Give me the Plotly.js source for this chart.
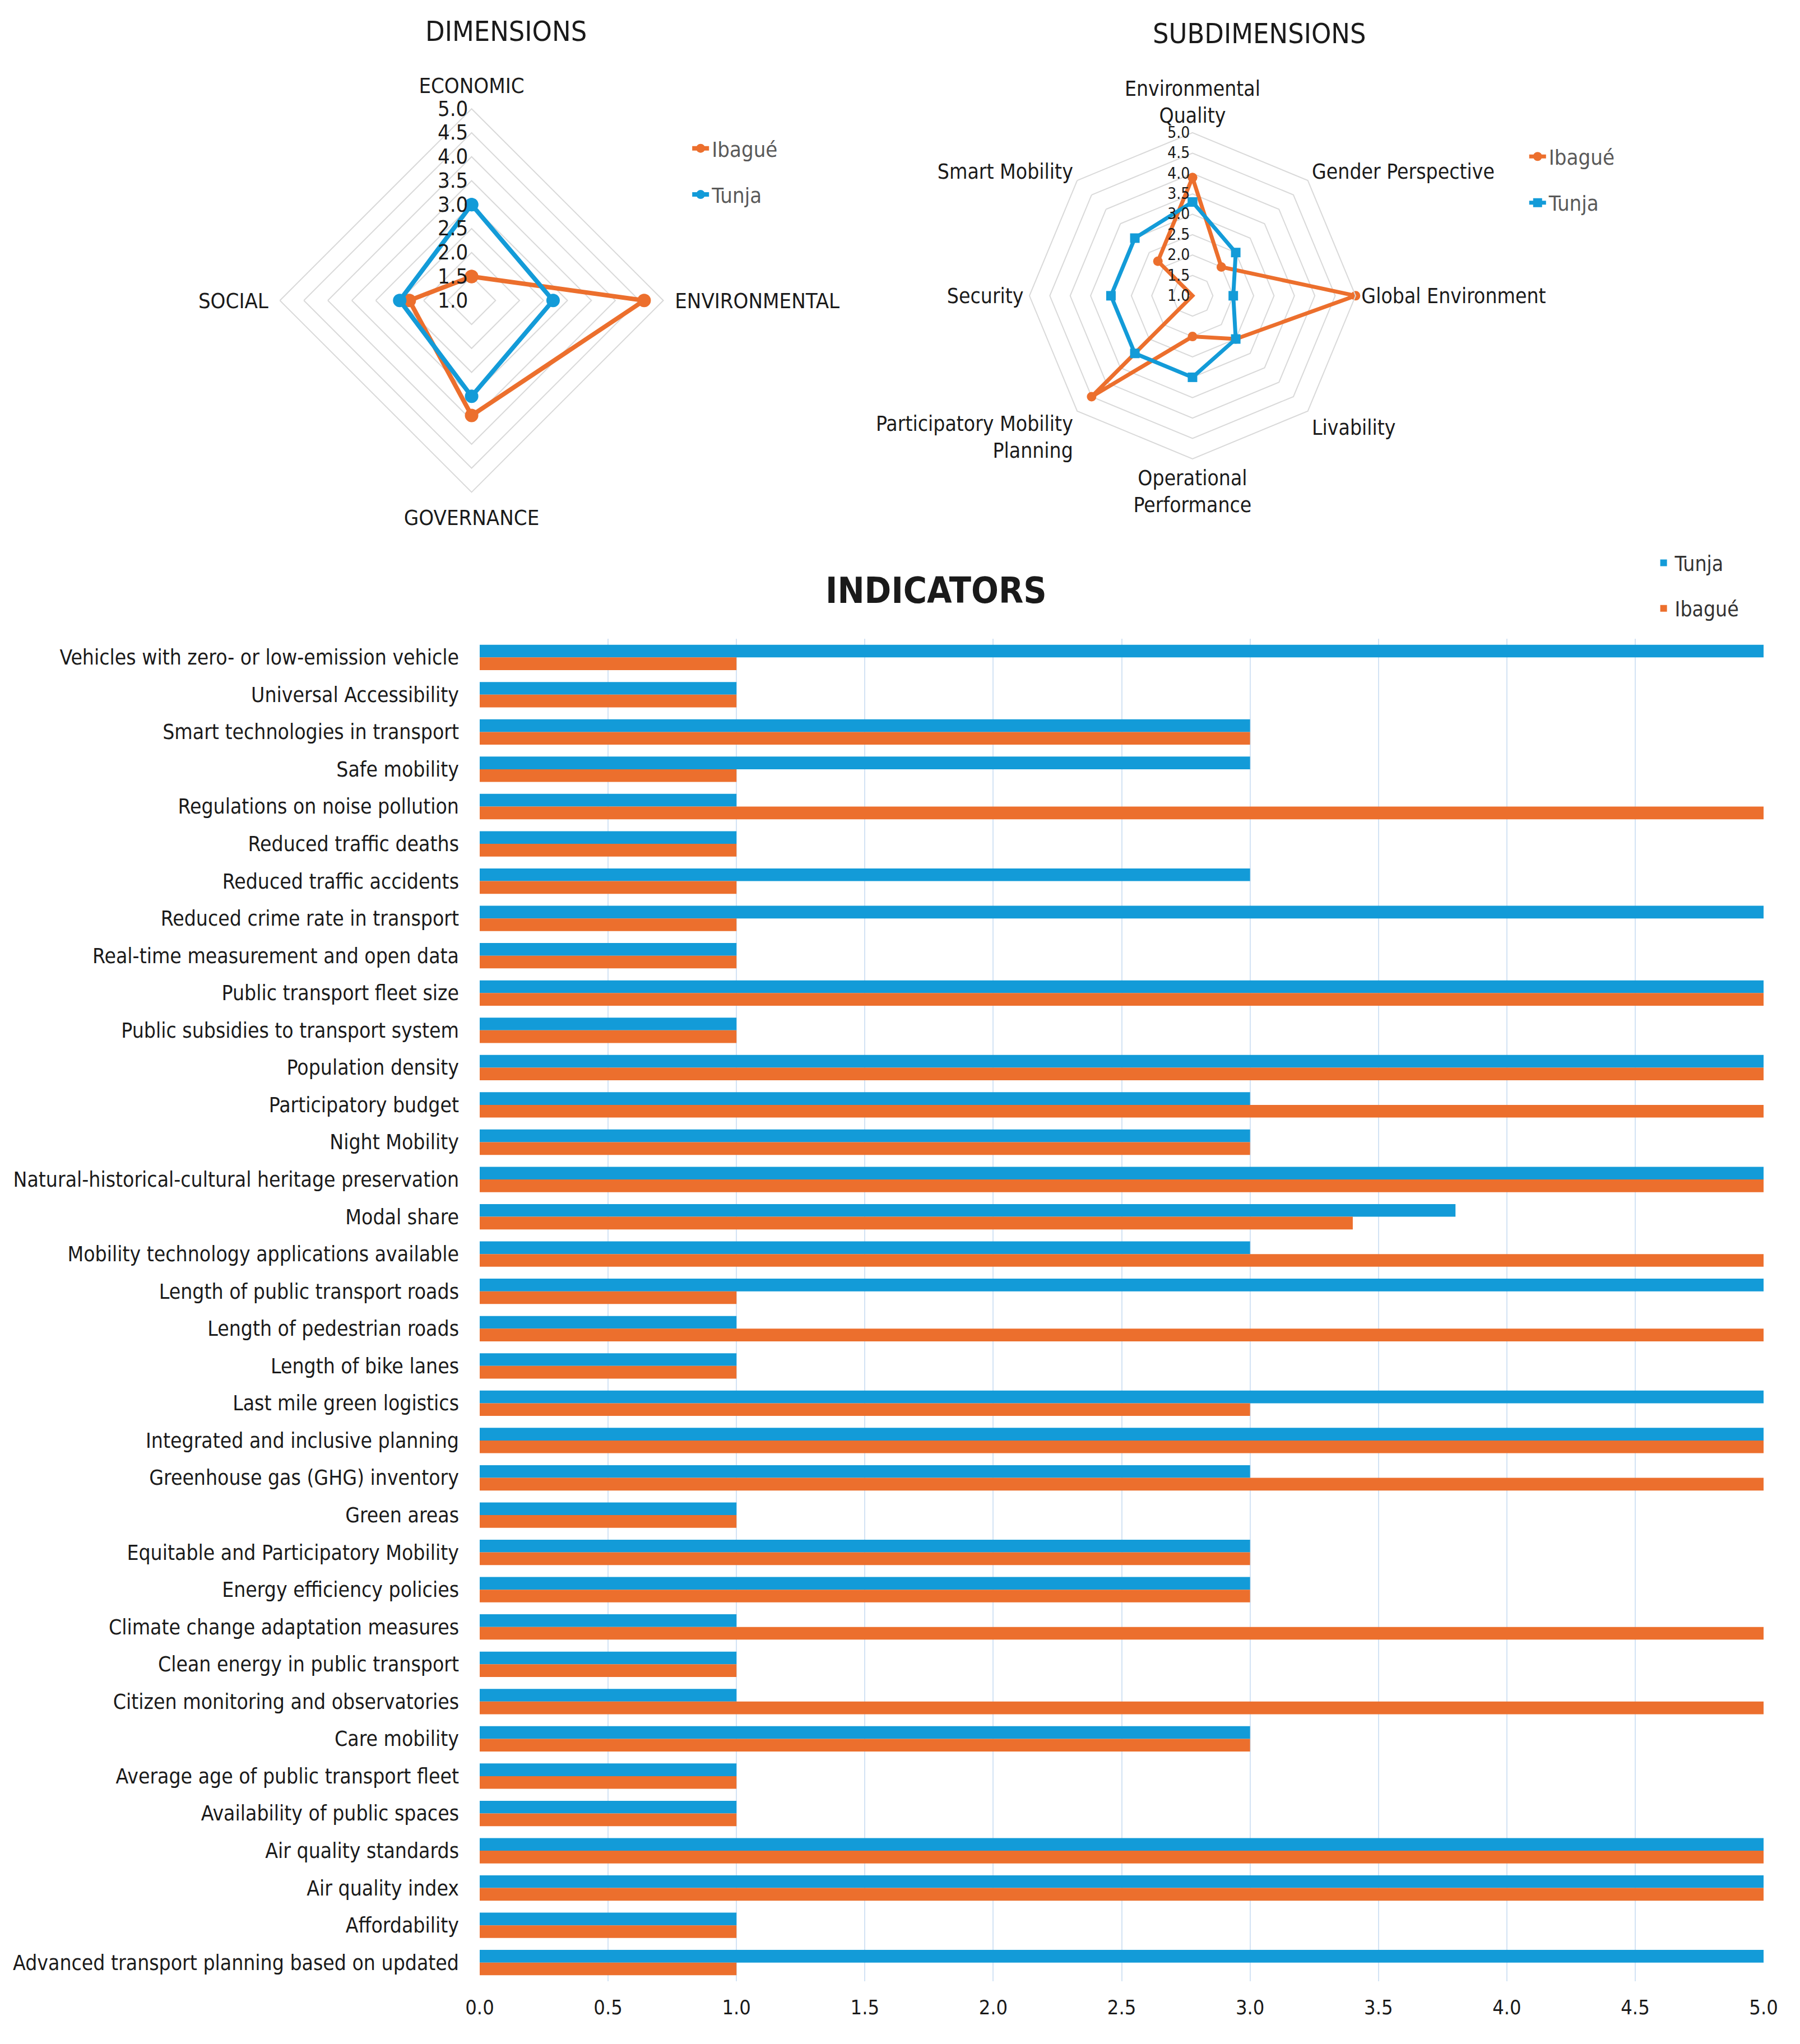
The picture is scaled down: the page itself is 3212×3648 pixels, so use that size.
<!DOCTYPE html>
<html>
<head>
<meta charset="utf-8">
<script src="https://cdn.plot.ly/plotly-3.0.1.min.js"></script>
<style>html,body{margin:0;padding:0;background:#fff;}#chart{width:3212px;height:3648px;}</style>
</head>
<body>
<div id="chart"></div>
<script>
// ---- DIMENSIONS radar ----
const dimCategories = ["ECONOMIC", "ENVIRONMENTAL", "GOVERNANCE", "SOCIAL"];
const dimIbague = [1.5, 4.6, 3.4, 2.3];
const dimTunja = [3.0, 2.7, 3.0, 2.5];

// ---- SUBDIMENSIONS radar ----
const subCategories = ["Environmental<br>Quality", "Gender Perspective", "Global Environment", "Livability",
  "Operational<br>Performance", "Participatory Mobility<br>Planning", "Security", "Smart Mobility"];
const subIbague = [3.9, 2.0, 5.0, 2.5, 2.0, 4.5, 1.0, 2.2];
const subTunja = [3.3, 2.5, 2.0, 2.5, 3.0, 3.0, 3.0, 3.0];

// ---- INDICATORS bars (top to bottom) ----
const indicators = [
  "Vehicles with zero- or low-emission vehicle",
  "Universal Accessibility",
  "Smart technologies in transport",
  "Safe mobility",
  "Regulations on noise pollution",
  "Reduced traffic deaths",
  "Reduced traffic accidents",
  "Reduced crime rate in transport",
  "Real-time measurement and open data",
  "Public transport fleet size",
  "Public subsidies to transport system",
  "Population density",
  "Participatory budget",
  "Night Mobility",
  "Natural-historical-cultural heritage preservation",
  "Modal share",
  "Mobility technology applications available",
  "Length of public transport roads",
  "Length of pedestrian roads",
  "Length of bike lanes",
  "Last mile green logistics",
  "Integrated and inclusive planning",
  "Greenhouse gas (GHG) inventory",
  "Green areas",
  "Equitable and Participatory Mobility",
  "Energy efficiency policies",
  "Climate change adaptation measures",
  "Clean energy in public transport",
  "Citizen monitoring and observatories",
  "Care mobility",
  "Average age of public transport fleet",
  "Availability of public spaces",
  "Air quality standards",
  "Air quality index",
  "Affordability",
  "Advanced transport planning based on updated"
];
const indTunja = [5,1,3,3,1,1,3,5,1,5,1,5,3,3,5,3.8,3,5,1,1,5,5,3,1,3,3,1,1,1,3,1,1,5,5,1,5];
const indIbague = [1,1,3,1,5,1,1,1,1,5,1,5,5,3,5,3.4,5,1,5,1,3,5,5,1,3,3,5,1,5,3,1,1,5,5,1,1];
const xTicks = [0,0.5,1,1.5,2,2.5,3,3.5,4,4.5,5];

const BLUE = "#139bd8";
const ORANGE = "#ec6f2d";
const FONT = "Liberation Sans Narrow, 'DejaVu Sans Condensed', Roboto, sans-serif";
const TXT = "#1a1a1a";

function closeLoop(a){ return a.concat([a[0]]); }

const traces = [
  {type:"scatterpolar", subplot:"polar", name:"Ibagué", legend:"legend2", legendgroup:"a",
   r: closeLoop(dimIbague), theta: closeLoop(dimCategories), mode:"lines+markers",
   line:{color:ORANGE, width:8}, marker:{color:ORANGE, size:24, symbol:"circle"}},
  {type:"scatterpolar", subplot:"polar", name:"Tunja", legend:"legend2", legendgroup:"b",
   r: closeLoop(dimTunja), theta: closeLoop(dimCategories), mode:"lines+markers",
   line:{color:BLUE, width:8}, marker:{color:BLUE, size:24, symbol:"circle"}},
  {type:"scatterpolar", subplot:"polar2", name:"Ibagué", legend:"legend3", legendgroup:"c",
   r: closeLoop(subIbague), theta: closeLoop(subCategories), mode:"lines+markers",
   line:{color:ORANGE, width:7}, marker:{color:ORANGE, size:17, symbol:"circle"}},
  {type:"scatterpolar", subplot:"polar2", name:"Tunja", legend:"legend3", legendgroup:"d",
   r: closeLoop(subTunja), theta: closeLoop(subCategories), mode:"lines+markers",
   line:{color:BLUE, width:7}, marker:{color:BLUE, size:17, symbol:"square"}},
  {type:"bar", orientation:"h", name:"Tunja", x: indTunja, y: indicators, legendgroup:"e",
   marker:{color:BLUE}, xaxis:"x", yaxis:"y"},
  {type:"bar", orientation:"h", name:"Ibagué", x: indIbague, y: indicators, legendgroup:"f",
   marker:{color:ORANGE}, xaxis:"x", yaxis:"y"}
];

function polarCfg(domX, domY, tickSize, catSize, pad){
  return {
    domain:{x:domX, y:domY},
    bgcolor:"#ffffff",
    gridshape:"linear",
    radialaxis:{range:[1,5], dtick:0.5, tick0:1, tickformat:".1f", angle:90, tickangle:90,
      side:"counterclockwise", showline:false, ticks:"", gridcolor:"#d9d9d9", gridwidth:2,
      tickfont:{family:FONT, size:tickSize, color:TXT}},
    angularaxis:{rotation:90, direction:"clockwise", showgrid:false, showline:true,
      linecolor:"#d9d9d9", linewidth:2, ticks:"outside", ticklen:pad, tickcolor:"rgba(0,0,0,0)",
      tickfont:{family:FONT, size:catSize, color:TXT}}
  };
}

const layout = {
  width:3212, height:3648,
  margin:{l:0,r:0,t:0,b:0},
  paper_bgcolor:"#ffffff",
  plot_bgcolor:"#ffffff",
  font:{family:FONT, color:TXT},
  barmode:"group", bargap:0.32, bargroupgap:0,
  polar: polarCfg([0.1555,0.3685],[0.759,0.947], 38, 38, 12),
  polar2: polarCfg([0.5719,0.7531],[0.7755,0.9351], 28, 37, 2),
  xaxis:{domain:[0.2665,0.9798], range:[0,5], tickvals:xTicks, tickformat:".1f",
    showgrid:true, gridcolor:"#d3e3f4", gridwidth:2, zeroline:false, showline:false,
    ticks:"", ticklabelstandoff:22, tickfont:{family:FONT, size:36, color:TXT}, anchor:"y"},
  yaxis:{domain:[0.0307,0.6875], type:"category", autorange:"reversed", showgrid:false,
    ticks:"", ticklabelstandoff:36, zeroline:false, showline:false,
    tickfont:{family:FONT, size:37, color:TXT}, anchor:"x"},
  legend:{x:0.918, y:0.733, xanchor:"left", yanchor:"top", tracegroupgap:30,
    font:{family:FONT, size:37, color:"#333"}, bgcolor:"rgba(0,0,0,0)"},
  legend2:{x:0.383, y:0.936, xanchor:"left", yanchor:"top", tracegroupgap:30,
    font:{family:FONT, size:38, color:"#595959"}, bgcolor:"rgba(0,0,0,0)"},
  legend3:{x:0.848, y:0.932, xanchor:"left", yanchor:"top", tracegroupgap:30,
    font:{family:FONT, size:38, color:"#595959"}, bgcolor:"rgba(0,0,0,0)"},
  annotations:[
    {text:"DIMENSIONS", x:903/3212, y:1-56/3648, xref:"paper", yref:"paper", showarrow:false,
     xanchor:"center", yanchor:"middle", font:{family:FONT, size:50, color:TXT}},
    {text:"SUBDIMENSIONS", x:2247/3212, y:1-60/3648, xref:"paper", yref:"paper", showarrow:false,
     xanchor:"center", yanchor:"middle", font:{family:FONT, size:50, color:TXT}},
    {text:"<b>INDICATORS</b>", x:1670/3212, y:1-1054/3648, xref:"paper", yref:"paper", showarrow:false,
     xanchor:"center", yanchor:"middle", font:{family:FONT, size:64, color:TXT}}
  ]
};

Plotly.newPlot("chart", traces, layout, {staticPlot:true});
</script>
</body>
</html>
